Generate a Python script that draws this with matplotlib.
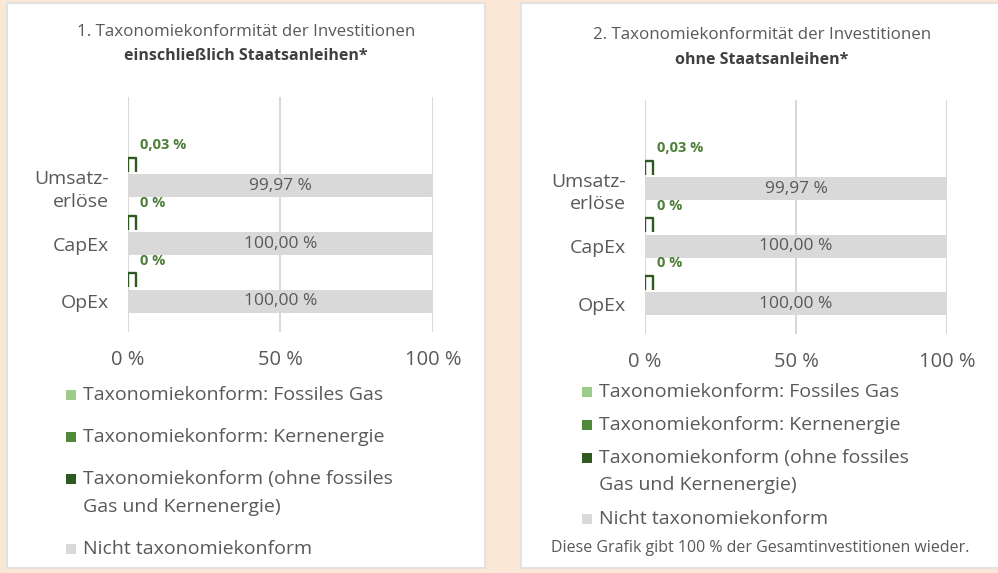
import matplotlib
matplotlib.use("Agg")
import matplotlib.pyplot as plt
from matplotlib.patches import Rectangle
from matplotlib.path import Path

plt.rcParams['font.family'] = ['Open Sans', 'DejaVu Sans']

# data (both panels show the same values)
categories = ["Umsatz-\nerlöse", "CapEx", "OpEx"]
fossiles_gas = [0.0, 0.0, 0.0]
kernenergie = [0.0, 0.0, 0.0]
taxo_ohne = [0.03, 0.0, 0.0]
nicht_taxo = [99.97, 100.00, 100.00]

titles = [("1. Taxonomiekonformität der Investitionen", "einschließlich Staatsanleihen*"),
          ("2. Taxonomiekonformität der Investitionen", "ohne Staatsanleihen*")]
legend_labels = ["Taxonomiekonform: Fossiles Gas",
                 "Taxonomiekonform: Kernenergie",
                 "Taxonomiekonform (ohne fossiles\nGas und Kernenergie)",
                 "Nicht taxonomiekonform"]
xtick_vals = [0, 50, 100]
xtick_labels = ["0 %", "50 %", "100 %"]
footnote = "Diese Grafik gibt 100 % der Gesamtinvestitionen wieder."

C_GAS = "#9ccb8a"
C_KERN = "#4e8a3a"
C_DARK = "#2e5a22"
C_GREY = "#d9d9d9"
C_TEXT = "#595959"
BG = "#fbe7d5"

W, H = 998, 573
fig = plt.figure(figsize=(W / 100, H / 100), dpi=100)
fig.patch.set_facecolor(BG)


def px(x0, y0, x1, y1):
    # pixel box -> figure fraction rect
    return [x0 / W, 1 - y1 / H, (x1 - x0) / W, (y1 - y0) / H]


# white panels
for (x0, x1) in [(7, 485), (521, 1002)]:
    fig.patches.append(Rectangle((x0 / W, 1 - 568 / H), (x1 - x0) / W, 565 / H,
                                 transform=fig.transFigure, facecolor="white",
                                 edgecolor="#e2e2e2", lw=1.5, zorder=-10))

# Π shaped marker for the tiny green bars
pi_marker = Path([(0, -1), (0, 1), (1.1, 1), (1.1, -1)],
                 [Path.MOVETO, Path.LINETO, Path.LINETO, Path.LINETO])

panels = [
    dict(ax=(128, 97, 433, 332), title_x=246, title_y=(32, 56),
         leg_x=66, leg_y=395, leg_step=42),
    dict(ax=(645, 100, 947, 334), title_x=762, title_y=(35, 60),
         leg_x=582, leg_y=392, leg_step=33),
]
LINE_STEP = 27.5

y = [2, 1, 0]
for i, p in enumerate(panels):
    ax = fig.add_axes(px(*p["ax"]))
    ax.set_facecolor("none")
    off = 0.364
    b_gas = ax.barh([v + off for v in y], fossiles_gas, height=0.24, color=C_GAS, lw=0)
    b_kern = ax.barh([v + off for v in y], kernenergie, height=0.24, color=C_KERN, lw=0)
    b_dark = ax.barh([v + off for v in y], taxo_ohne, height=0.24, color=C_DARK, lw=0)
    b_grey = ax.barh(y, nicht_taxo, height=0.40, color=C_GREY, lw=0)

    for yy, v in zip(y, taxo_ohne):
        ax.plot(v, yy + off, marker=pi_marker, markersize=11, color=C_DARK,
                markerfacecolor="none", markeredgewidth=1.7, zorder=4)
        lab = "0 %" if v == 0 else f"{v:.2f}".replace(".", ",") + " %"
        ax.annotate(lab, (v, yy + off), xytext=(8.5, 14), textcoords="offset points",
                    ha="left", va="center", fontsize=10.5, fontweight="bold",
                    color="#4e7f3a")
    for yy, v in zip(y, nicht_taxo):
        ax.text(50, yy, f"{v:.2f}".replace(".", ",") + " %", ha="center", va="center",
                fontsize=12.5, color=C_TEXT)

    ax.set_xlim(0, 100)
    ax.set_ylim(-0.53, 3.54)
    for s in ax.spines.values():
        s.set_visible(False)
    ax.set_xticks(xtick_vals)
    ax.set_xticklabels(xtick_labels, fontsize=14.5, color=C_TEXT)
    ax.set_yticks(y)
    ax.set_yticklabels(categories, fontsize=14, color=C_TEXT, linespacing=1.35)
    ax.tick_params(axis="x", length=0, pad=13)
    ax.tick_params(axis="y", length=0, pad=14)
    ax.grid(axis="x", color=C_GREY, lw=1.5)
    ax.set_axisbelow(True)

    fig.text(p["title_x"] / W, 1 - p["title_y"][0] / H, titles[i][0], ha="center",
             va="center", fontsize=12.2, color=C_TEXT)
    fig.text(p["title_x"] / W, 1 - p["title_y"][1] / H, titles[i][1], ha="center",
             va="center", fontsize=11.5, fontweight="bold", color="#404040")

    # legend: square + label, marker aligned with the first text line
    ly = p["leg_y"]
    for bars, label in zip([b_gas, b_kern, b_dark, b_grey], legend_labels):
        fc = bars.patches[0].get_facecolor()
        fig.patches.append(Rectangle(((p["leg_x"]) / W, 1 - (ly + 5) / H), 10 / W, 10 / H,
                                     transform=fig.transFigure, facecolor=fc, lw=0))
        lines = label.split("\n")
        for k, line in enumerate(lines):
            fig.text((p["leg_x"] + 17) / W, 1 - (ly + k * LINE_STEP) / H, line,
                     ha="left", va="center", fontsize=14, color=C_TEXT)
        ly += p["leg_step"] + (len(lines) - 1) * LINE_STEP

fig.text(760 / W, 1 - 548 / H, footnote, ha="center", va="center", fontsize=11.5,
         color=C_TEXT)

fig.savefig("out.png", dpi=100, facecolor=BG)
